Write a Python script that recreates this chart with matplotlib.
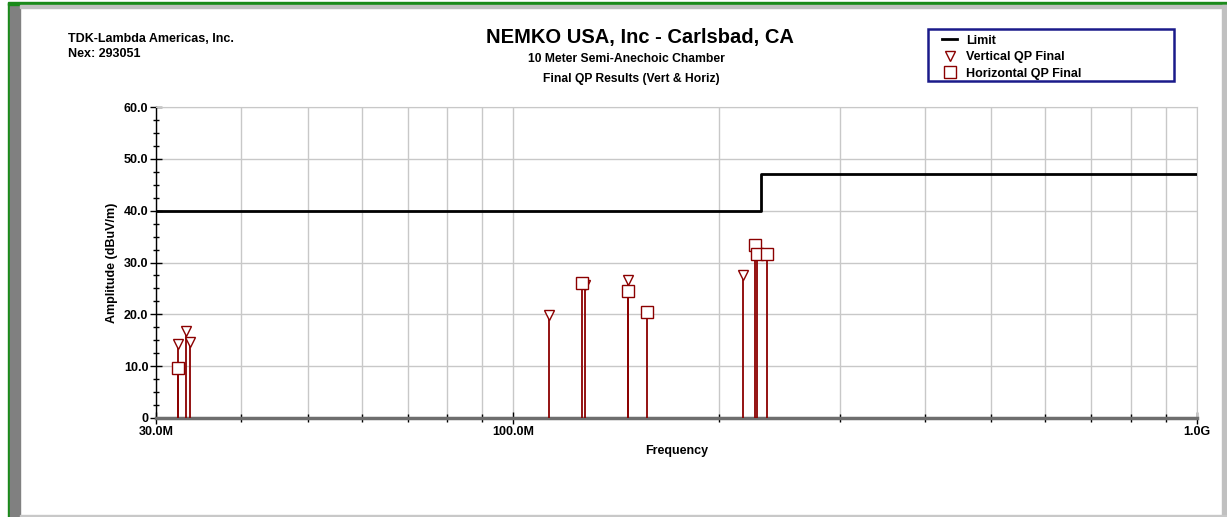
import matplotlib
matplotlib.use("Agg")
from matplotlib import pyplot as plt
from matplotlib.lines import Line2D
from matplotlib.patches import Rectangle
from matplotlib.ticker import FixedLocator, NullFormatter, MultipleLocator

plt.rcParams['font.family'] = ['Liberation Sans', 'DejaVu Sans']
plt.rcParams['font.weight'] = 'bold'

######### data (MHz, dBuV/m) #########
limit_freq = [30.0, 230.0, 1000.0]
limit_level = [40.0, 47.0, 47.0]

vert_freq = [32.3, 33.2, 33.6, 112.7, 127.3, 147.3, 217.0]
vert_amp = [14.3, 16.8, 14.7, 19.9, 25.6, 26.6, 27.6]

horz_freq = [32.3, 126.1, 147.3, 156.8, 225.9, 227.2, 234.7]
horz_amp = [9.6, 26.1, 24.5, 20.5, 33.4, 31.6, 31.6]

x_major = [30.0, 100.0, 1000.0]
x_major_labels = ['30.0M', '100.0M', '1.0G']
x_minor = [40, 50, 60, 70, 80, 90, 200, 300, 400, 500, 600, 700, 800, 900]
y_ticks = [0, 10, 20, 30, 40, 50, 60]
y_labels = ['0', '10.0', '20.0', '30.0', '40.0', '50.0', '60.0']

red = '#8b0000'
grid_c = '#c8c8c8'
W, H = 1227.0, 517.0

################################### draw #################################
fig = plt.figure(figsize=(12.27, 5.17), dpi=100)


def fig_rect(x, y, w, h, **kw):
    # x, y, w, h in pixels from the top left corner
    fig.patches.append(Rectangle((x / W, 1 - (y + h) / H), w / W, h / H,
                                 transform=fig.transFigure, **kw))


# frame around the page
fig_rect(8, 3, 2, 514, color='#1a8a1a', zorder=0)
fig_rect(10, 5, 10, 512, color='#808080', zorder=0)
fig_rect(8, 2, 1219, 3, color='#1a8a1a', zorder=0)
fig_rect(20, 5, 1207, 3, color='#c0c0c0', zorder=0)
fig_rect(1222, 5, 5, 512, color='#c0c0c0', zorder=0)
fig_rect(20, 515, 1207, 2, color='#c8c8c8', zorder=0)

ax = fig.add_axes([156 / W, 99 / H, 1041 / W, 311 / H])
ax.set_xscale('log')
ax.set_xlim(30, 1000)
ax.set_ylim(0, 60)

ax.xaxis.set_major_locator(FixedLocator(x_major))
ax.xaxis.set_minor_locator(FixedLocator(x_minor))
ax.xaxis.set_minor_formatter(NullFormatter())
ax.set_xticklabels(x_major_labels)
ax.set_yticks(y_ticks)
ax.set_yticklabels(y_labels)
ax.yaxis.set_minor_locator(MultipleLocator(2.5))

ax.tick_params(axis='both', which='both', direction='inout', labelsize=9, colors='black')
ax.tick_params(axis='y', which='major', length=9, width=1, pad=1)
ax.tick_params(axis='y', which='minor', length=5, width=1)
ax.tick_params(axis='x', which='major', length=8, width=1, pad=2)
ax.tick_params(axis='x', which='minor', length=6, width=1)

ax.grid(True, which='major', axis='y', color=grid_c, lw=1)
ax.grid(True, which='both', axis='x', color=grid_c, lw=1)
ax.set_axisbelow(True)

ax.spines['left'].set_color('black')
ax.spines['left'].set_linewidth(1)
ax.spines['bottom'].set_color('#6e6e6e')
ax.spines['bottom'].set_linewidth(2.5)
ax.spines['top'].set_color(grid_c)
ax.spines['right'].set_color(grid_c)

# limit line
ax.plot(limit_freq, limit_level, drawstyle='steps-post', color='black', lw=2, zorder=3)

# stems and markers
ax.vlines(vert_freq, 0, vert_amp, color=red, lw=1.3, zorder=3)
ax.vlines(horz_freq, 0, horz_amp, color=red, lw=1.3, zorder=3)
ax.plot(vert_freq, vert_amp, 'v', ms=7, mfc='white', mec=red, mew=1, ls='none', zorder=4)
ax.plot(horz_freq, horz_amp, 's', ms=8, mfc='white', mec=red, mew=1, ls='none', zorder=4)

ax.set_xlabel('Frequency', fontsize=9, fontweight='bold', labelpad=5)
ax.set_ylabel('Amplitude (dBuV/m)', fontsize=9, fontweight='bold', labelpad=4)

# header texts
fig.text(68 / W, 1 - 39 / H, 'TDK-Lambda Americas, Inc.', fontsize=9, fontweight='bold', va='center')
fig.text(68 / W, 1 - 54 / H, 'Nex: 293051', fontsize=9, fontweight='bold', va='center')
fig.text(640 / W, 1 - 38 / H, 'NEMKO USA, Inc - Carlsbad, CA', fontsize=14.5, fontweight='bold',
         ha='center', va='center')
fig.text(626 / W, 1 - 59 / H, '10 Meter Semi-Anechoic Chamber', fontsize=8.7, fontweight='bold',
         ha='center', va='center')
fig.text(631 / W, 1 - 79 / H, 'Final QP Results (Vert & Horiz)', fontsize=8.7, fontweight='bold',
         ha='center', va='center')

# legend
fig_rect(928, 29, 246, 52, fill=False, edgecolor='#1a1a8a', lw=1.8, zorder=2)
handles = [Line2D([], [], color='black', lw=2),
           Line2D([], [], marker='v', ls='none', ms=7, mfc='white', mec=red),
           Line2D([], [], marker='s', ls='none', ms=8, mfc='white', mec=red)]
fig.legend(handles, ['Limit', 'Vertical QP Final', 'Horizontal QP Final'],
           loc='upper left', bbox_to_anchor=(942 / W, 1 - 34.5 / H),
           prop={'size': 9, 'weight': 'bold'}, frameon=False,
           handlelength=1.2, handletextpad=0.75, borderpad=0, labelspacing=0.36,
           borderaxespad=0)

plt.savefig('out.png', dpi=100)
